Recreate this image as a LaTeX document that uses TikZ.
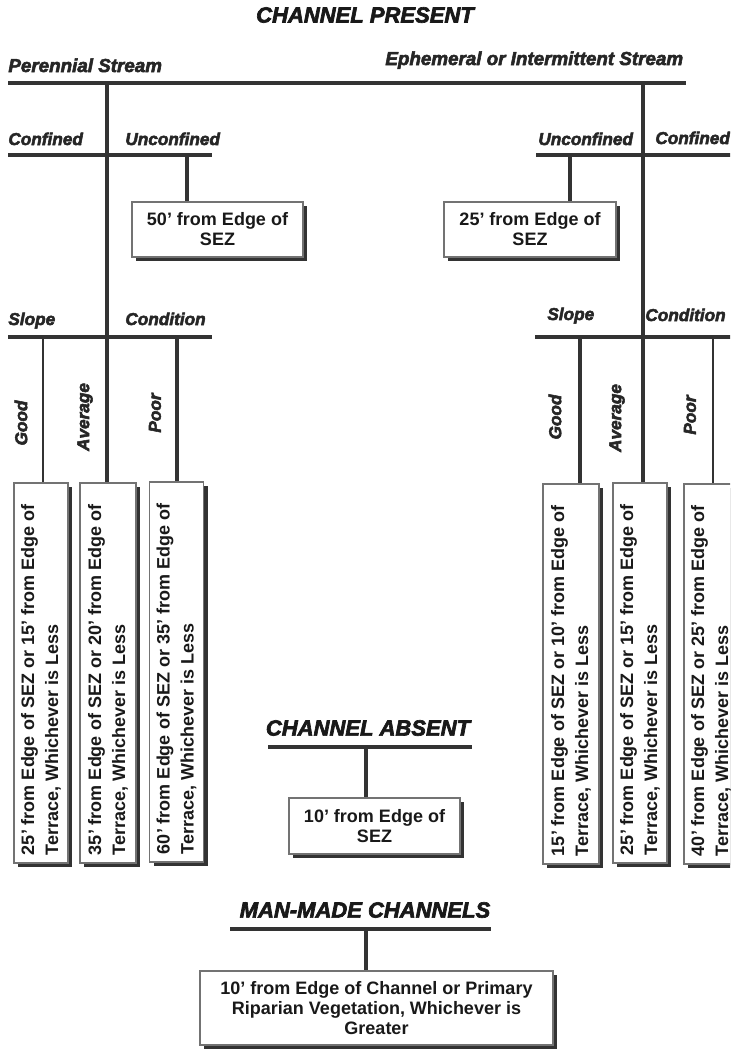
\documentclass[tikz,border=0pt]{standalone}
\usepackage{fontspec}
\setmainfont{Liberation Sans}
\newfontfamily\heavyfont{Liberation Sans Bold Italic}[FakeBold=3]
\usepackage{tikz}
\usetikzlibrary{positioning, shadows}

\tikzset{
  mainbar/.style={line width=2.4pt, draw=black!80},
  bar/.style={line width=1.6pt, draw=black!80},
  thinbar/.style={line width=1.1pt, draw=black!80},
  heading/.style={font=\heavyfont\fontsize{11}{13}\selectfont, text=black!90, inner sep=0pt},
  tag/.style={font=\heavyfont\fontsize{8.6}{10}\selectfont, text=black!85, inner sep=0pt},
  streamtag/.style={tag, font=\heavyfont\fontsize{9.4}{11}\selectfont},
  rulebox/.style={draw=black!55, line width=0.7pt, fill=white, align=center, inner sep=0pt,
    font=\bfseries\fontsize{9}{10}\selectfont, text=black!90,
    drop shadow={shadow xshift=2.2pt, shadow yshift=-2.2pt, fill=black!80, opacity=1}},
  tallbox/.style={rulebox, minimum width=27pt, minimum height=190pt},
}
\newcommand{\uptext}[2]{\rotatebox{90}{\parbox{182pt}{\raggedright\fontsize{9}{12}\selectfont #1\\#2}}}

\begin{document}
\begin{tikzpicture}[x=0.5pt, y=-0.5pt]
  \useasboundingbox (0,0) rectangle (730,1050);
  \clip (0,0) rectangle (730,1050);

  % channel present
  \node[heading] (present) at (365,15) {CHANNEL PRESENT};
  \node[streamtag, anchor=base west] (perennial) at (8,72) {Perennial Stream};
  \node[streamtag, anchor=base west] (ephemeral) at (385,65) {Ephemeral or Intermittent Stream};
  \coordinate (mainL) at (8,83);
  \coordinate (mainR) at (686,83);
  \draw[mainbar] (mainL) -- (mainR);

  % perennial side
  \node[tag, anchor=base west] (confinedL) at (8,145) {Confined};
  \node[tag, anchor=base west] (unconfinedL) at (125,145) {Unconfined};
  \node[rulebox, minimum width=85.5pt, minimum height=27.5pt] (fifty) at (217.5,229.5) {50' from Edge of\\SEZ};
  \node[tag, anchor=base west] (slopeL) at (8,325) {Slope};
  \node[tag, anchor=base west] (conditionL) at (125,325) {Condition};
  \node[tag, rotate=90] (goodLtag) at (21,423) {Good};
  \node[tag, rotate=90] (avgLtag) at (85,417) {Average};
  \node[tag, rotate=90] (poorLtag) at (155,413) {Poor};
  \node[tallbox] (goodL) at (41,673) {\uptext{25' from Edge of SEZ or 15' from Edge of}{Terrace, Whichever is Less}};
  \node[tallbox, minimum width=28pt] (avgL) at (108,673) {\uptext{35' from Edge of SEZ or 20' from Edge of}{Terrace, Whichever is Less}};
  \node[tallbox] (poorL) at (176.5,672) {\uptext{60' from Edge of SEZ or 35' from Edge of}{Terrace, Whichever is Less}};

  \coordinate (perTop) at (107,83);
  \coordinate (confLa) at (8,155);
  \coordinate (confLb) at (212,155);
  \coordinate (unconfTopL) at (187,155);
  \coordinate (slopeLa) at (8,337);
  \coordinate (slopeLb) at (212,337);
  \coordinate (goodTopL) at (43,337);
  \coordinate (poorTopL) at (177,337);
  \draw[bar] (perTop) -- (perTop |- avgL.north);
  \draw[bar] (confLa) -- (confLb);
  \draw[bar] (unconfTopL) -- (unconfTopL |- fifty.north);
  \draw[bar] (slopeLa) -- (slopeLb);
  \draw[thinbar] (goodTopL) -- (goodTopL |- goodL.north);
  \draw[bar] (poorTopL) -- (poorTopL |- poorL.north);

  % ephemeral side
  \node[tag, anchor=base west] (unconfinedR) at (538,145) {Unconfined};
  \node[tag, anchor=base west] (confinedR) at (655,144) {Confined};
  \node[rulebox, minimum width=86pt, minimum height=27.5pt] (twentyfive) at (530,229.5) {25' from Edge of\\SEZ};
  \node[tag, anchor=base west] (slopeR) at (547,320) {Slope};
  \node[tag, anchor=base west] (conditionR) at (645,321) {Condition};
  \node[tag, rotate=90] (goodRtag) at (555,417) {Good};
  \node[tag, rotate=90] (avgRtag) at (617,418) {Average};
  \node[tag, rotate=90] (poorRtag) at (690,415) {Poor};
  \node[tallbox, minimum width=28pt] (goodR) at (571,674) {\uptext{15' from Edge of SEZ or 10' from Edge of}{Terrace, Whichever is Less}};
  \node[tallbox] (avgR) at (640,673) {\uptext{25' from Edge of SEZ or 15' from Edge of}{Terrace, Whichever is Less}};
  \node[tallbox] (poorR) at (711,674) {\uptext{40' from Edge of SEZ or 25' from Edge of}{Terrace, Whichever is Less}};

  \coordinate (ephTop) at (643,83);
  \coordinate (confRa) at (536,155);
  \coordinate (confRb) at (740,155);
  \coordinate (unconfTopR) at (570,155);
  \coordinate (slopeRa) at (535,337);
  \coordinate (slopeRb) at (740,337);
  \coordinate (goodTopR) at (580,337);
  \coordinate (poorTopR) at (713,337);
  \draw[bar] (ephTop) -- (ephTop |- avgR.north);
  \draw[bar] (confRa) -- (confRb);
  \draw[bar] (unconfTopR) -- (unconfTopR |- twentyfive.north);
  \draw[bar] (slopeRa) -- (slopeRb);
  \draw[bar] (goodTopR) -- (goodTopR |- goodR.north);
  \draw[thinbar] (poorTopR) -- (poorTopR |- poorR.north);

  % channel absent
  \node[heading] (absent) at (368,728) {CHANNEL ABSENT};
  \node[rulebox, minimum width=85.5pt, minimum height=28pt] (ten) at (374.5,826) {10' from Edge of\\SEZ};
  \coordinate (absentA) at (268,747);
  \coordinate (absentB) at (472,747);
  \coordinate (absentTop) at (366,747);
  \draw[bar] (absentA) -- (absentB);
  \draw[bar] (absentTop) -- (absentTop |- ten.north);

  % man-made channels
  \node[heading] (manmade) at (365,910) {MAN-MADE CHANNELS};
  \node[rulebox, minimum width=176.5pt, minimum height=37pt] (manbox) at (376.5,1008) {10' from Edge of Channel or Primary\\Riparian Vegetation, Whichever is\\Greater};
  \coordinate (manA) at (230,929);
  \coordinate (manB) at (491,929);
  \coordinate (manTop) at (366,929);
  \draw[bar] (manA) -- (manB);
  \draw[bar] (manTop) -- (manTop |- manbox.north);
\end{tikzpicture}
\end{document}
